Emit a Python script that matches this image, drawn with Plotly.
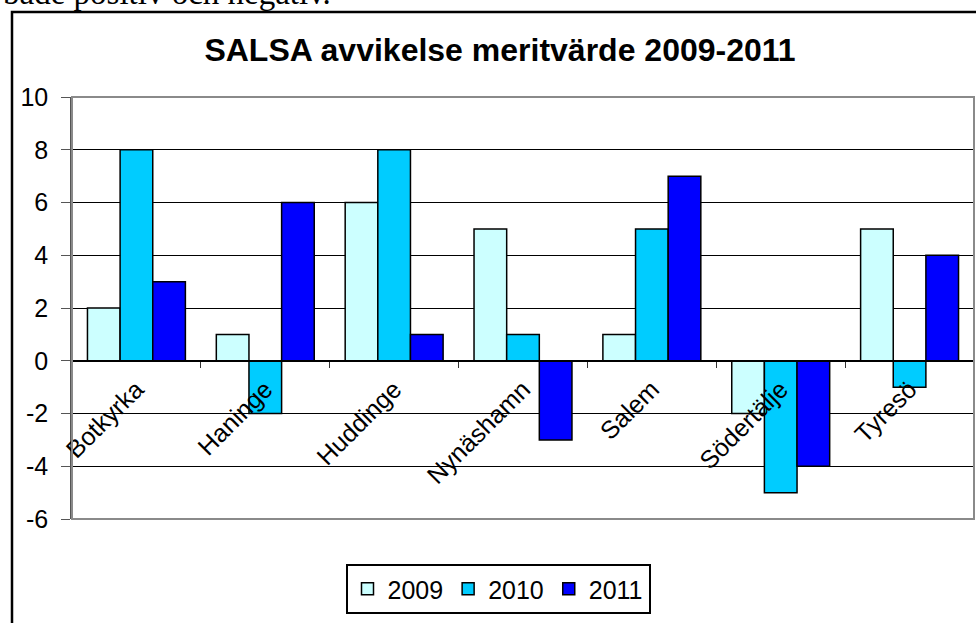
import plotly.graph_objects as go

categories = ["Botkyrka", "Haninge", "Huddinge", "Nynäshamn", "Salem", "Södertälje", "Tyresö"]
years = ["2009", "2010", "2011"]
v2009 = [2, 1, 6, 5, 1, -2, 5]
v2010 = [8, -2, 8, 1, 5, -5, -1]
v2011 = [3, 6, 1, -3, 7, -4, 4]
colors = ["#CCFFFF", "#00CCFF", "#0000FF"]
y_tickvals = [-6, -4, -2, 0, 2, 4, 6, 8, 10]
y_ticktext = ["-6", "-4", "-2", "0", "2", "4", "6", "8", "10"]

W, H = 976, 623
L, R, T, B = 72, 2, 97, 104
pw, ph = W - L - R, H - T - B


def px_x(x):
    return (x - L) / pw


def px_y(y):
    return (H - B - y) / ph


fig = go.Figure()
for name, vals, col in zip(years, [v2009, v2010, v2011], colors):
    fig.add_trace(go.Bar(
        x=categories, y=vals, name=name,
        marker=dict(color=col, line=dict(color="black", width=1.5)),
    ))

ymin, ymax = -6, 10
fig.update_layout(
    width=W, height=H,
    margin=dict(l=L, r=R, t=T, b=B),
    paper_bgcolor="white", plot_bgcolor="white",
    barmode="group", bargap=0.24, bargroupgap=0,
    font=dict(family="Liberation Sans, Arial", color="black", size=25),
    title=dict(
        text="<b>SALSA avvikelse meritvärde 2009-2011</b>",
        font=dict(family="Liberation Sans, Arial", size=32, color="black"),
        x=px_x(500), xref="paper", xanchor="center",
        y=1 - 50 / H, yref="container", yanchor="middle",
    ),
    xaxis=dict(
        anchor="free", position=(0 - ymin) / (ymax - ymin),
        showline=True, linecolor="black", linewidth=1,
        ticks="outside", tickson="boundaries", ticklen=6, tickcolor="#333",
        tickangle=-45, tickfont=dict(size=25, color="black"),
        ticklabelstandoff=3,
        showgrid=False,
    ),
    yaxis=dict(
        range=[ymin, ymax], tickvals=y_tickvals, ticktext=y_ticktext,
        showgrid=True, gridcolor="black", gridwidth=1,
        zeroline=False,
        showline=True, linecolor="#555", linewidth=1.5,
        ticks="outside", ticklen=9, tickcolor="#555",
        tickfont=dict(size=25, color="black"),
        ticklabelstandoff=8,
    ),
    legend=dict(
        orientation="h", x=px_x(498), xanchor="center",
        y=px_y(589), yanchor="middle",
        bordercolor="black", borderwidth=2,
        font=dict(size=25, color="black"),
        traceorder="normal",
    ),
    shapes=[
        dict(type="rect", xref="paper", yref="paper", x0=0, x1=1, y0=0, y1=1,
             line=dict(color="#8a8a8a", width=2), layer="above"),
        dict(type="rect", xref="paper", yref="paper",
             x0=px_x(12), x1=px_x(1100), y0=px_y(800), y1=px_y(12),
             line=dict(color="black", width=2.5), layer="above"),
    ],
    annotations=[
        dict(text="både positiv och negativ.", xref="paper", yref="paper",
             x=px_x(1), xanchor="left", y=px_y(-7), yanchor="middle",
             showarrow=False,
             font=dict(family="Liberation Serif, Times New Roman", size=33, color="black")),
    ],
)

fig.write_html("out.html", config={"displayModeBar": False},
               post_script="document.body.style.margin='0';document.body.style.overflow='hidden';")
